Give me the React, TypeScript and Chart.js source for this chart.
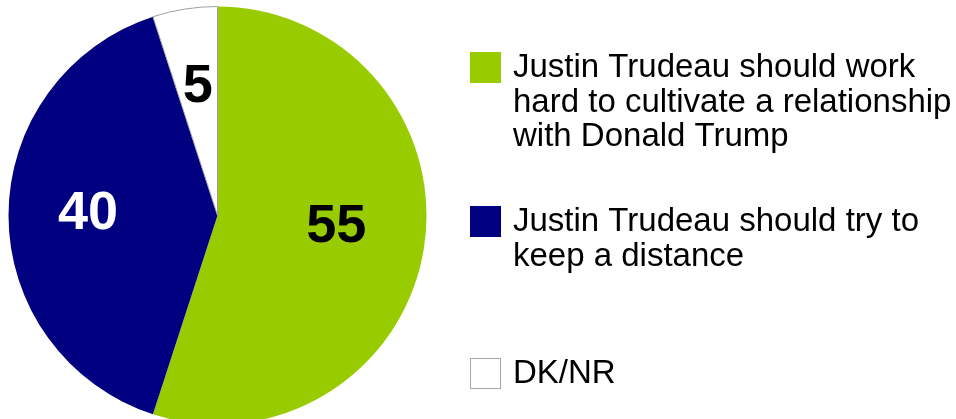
import React, { useEffect, useRef } from "react";
import { Chart, registerables } from "chart.js";

Chart.register(...registerables);

const categories: string[][] = [
  ["Justin Trudeau should work", "hard to cultivate a relationship", "with Donald Trump"],
  ["Justin Trudeau should try to", "keep a distance"],
  ["DK/NR"],
];
const values: number[] = [55, 40, 5];
const sliceColors: string[] = ["#99CC00", "#000080", "#FFFFFF"];
const labelColors: string[] = ["#000000", "#FFFFFF", "#000000"];

const FONT = "'Liberation Sans', Arial, sans-serif";
// small pixel nudges of the value labels (style only)
const LABEL_NUDGE: [number, number][] = [
  [-5, -8],
  [-4, -1],
  [0, -5],
];

const valueLabelPlugin = {
  id: "valueLabels",
  afterDatasetsDraw(chart: any) {
    const ctx = chart.ctx;
    const meta = chart.getDatasetMeta(0);
    ctx.save();
    ctx.font = `bold 54px ${FONT}`;
    ctx.textAlign = "center";
    ctx.textBaseline = "middle";
    meta.data.forEach((arc: any, i: number) => {
      const { x, y, startAngle, endAngle, outerRadius } = arc.getProps(
        ["x", "y", "startAngle", "endAngle", "outerRadius"],
        true
      );
      const mid = (startAngle + endAngle) / 2;
      const r = outerRadius * 0.6;
      ctx.fillStyle = labelColors[i];
      ctx.fillText(
        String(values[i]),
        x + Math.cos(mid) * r + LABEL_NUDGE[i][0],
        y + Math.sin(mid) * r + LABEL_NUDGE[i][1]
      );
    });
    ctx.restore();
  },
};

const legendPlugin = {
  id: "sideLegend",
  afterDraw(chart: any) {
    const ctx = chart.ctx;
    const boxX = 470;
    const boxSize = 31;
    const textX = 513;
    const lineH = 34.5;
    const firstBaselines = [77, 231, 383];
    ctx.save();
    ctx.font = `33px ${FONT}`;
    ctx.textAlign = "left";
    ctx.textBaseline = "alphabetic";
    categories.forEach((lines, i) => {
      const base = firstBaselines[i];
      const boxTop = base - 25;
      ctx.fillStyle = sliceColors[i];
      ctx.fillRect(boxX, boxTop, boxSize, boxSize);
      if (i === 2) {
        ctx.strokeStyle = "#A6A6A6";
        ctx.lineWidth = 1;
        ctx.strokeRect(boxX + 0.5, boxTop + 0.5, boxSize - 1, boxSize - 1);
      }
      ctx.fillStyle = "#000000";
      lines.forEach((line, j) => {
        ctx.fillText(line, textX, base + j * lineH);
      });
    });
    ctx.restore();
  },
};

export default function App() {
  const ref = useRef<HTMLCanvasElement | null>(null);

  useEffect(() => {
    document.body.style.margin = "0";
    if (!ref.current) return;
    const chart = new Chart(ref.current, {
      type: "pie",
      data: {
        labels: categories.map((c) => c.join(" ")),
        datasets: [
          {
            data: values,
            backgroundColor: sliceColors,
            borderColor: ["#99CC00", "#000080", "#A0A0A0"],
            borderWidth: [0, 0, 1],
          },
        ],
      },
      options: {
        responsive: false,
        animation: false,
        devicePixelRatio: 1,
        layout: { padding: { left: 8, top: 6, right: 529, bottom: 5 } },
        plugins: {
          legend: { display: false },
          tooltip: { enabled: false },
        },
      },
      plugins: [valueLabelPlugin, legendPlugin],
    });
    return () => chart.destroy();
  }, []);

  return (
    <div
      style={{
        position: "fixed",
        left: 0,
        top: 0,
        width: 956,
        height: 419,
        overflow: "hidden",
        background: "#FFFFFF",
      }}
    >
      <canvas ref={ref} width={956} height={430} style={{ display: "block" }} />
    </div>
  );
}
